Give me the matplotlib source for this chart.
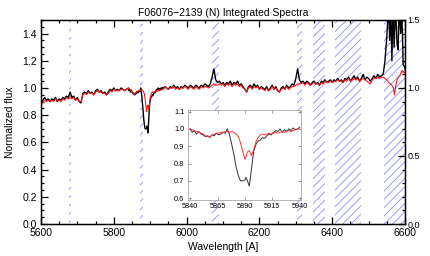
import numpy as np
import matplotlib
matplotlib.use("Agg")
import matplotlib.pyplot as plt

plt.rcParams['font.family'] = ['Liberation Sans', 'DejaVu Sans']
plt.rcParams['hatch.linewidth'] = 0.6

title = "F06076\u22122139 (N) Integrated Spectra"
xlabel = "Wavelength [A]"
ylabel = "Normalized flux"

# --- segment 1: 5600-5835, step 5 ---
w1 = np.arange(5600, 5836, 5)
black1 = [0.88, 0.91, 0.93, 0.91, 0.92, 0.90, 0.92, 0.91, 0.93, 0.90,
          0.92, 0.91, 0.93, 0.92, 0.94, 0.93, 0.97, 0.93, 0.94, 0.91,
          0.93, 0.90, 0.89, 0.96, 0.97, 0.96, 0.98, 0.96, 0.97, 0.95,
          0.98, 0.99, 0.97, 0.98, 0.96, 0.97, 0.95, 0.97, 0.99, 0.98,
          1.00, 0.98, 0.99, 0.98, 1.00, 0.99, 0.98, 0.99]
red1 = [0.87, 0.89, 0.91, 0.90, 0.91, 0.90, 0.91, 0.90, 0.92, 0.91,
        0.91, 0.90, 0.92, 0.91, 0.93, 0.92, 0.93, 0.92, 0.93, 0.91,
        0.92, 0.90, 0.90, 0.95, 0.96, 0.95, 0.97, 0.96, 0.96, 0.95,
        0.97, 0.98, 0.97, 0.97, 0.96, 0.96, 0.95, 0.96, 0.98, 0.97,
        0.99, 0.98, 0.98, 0.98, 0.99, 0.99, 0.98, 0.99]

# --- segment 2: Na D region 5840-5940 ---
w2 = [5840, 5842, 5844, 5846, 5848, 5850, 5852, 5854, 5856, 5858,
      5860, 5862, 5864, 5866, 5868, 5870, 5872, 5874, 5876, 5878,
      5880, 5882, 5884, 5886, 5888, 5890, 5891, 5892, 5894, 5896,
      5898, 5900, 5902, 5904, 5906, 5908, 5910, 5912, 5914, 5916,
      5918, 5920, 5922, 5924, 5926, 5928, 5930, 5932, 5934, 5936,
      5938, 5940]
black2 = [1.00, 0.98, 0.99, 0.97, 0.985, 0.97, 0.965, 0.955, 0.96, 0.95,
          0.965, 0.96, 0.975, 0.965, 0.97, 0.98, 0.975, 1.00, 0.965, 0.91,
          0.85, 0.78, 0.73, 0.70, 0.70, 0.705, 0.72, 0.705, 0.67, 0.77,
          0.87, 0.91, 0.93, 0.935, 0.95, 0.945, 0.96, 0.97, 0.965, 0.98,
          0.99, 0.985, 1.00, 0.98, 0.995, 0.985, 1.00, 0.99, 1.005, 0.995,
          1.00, 1.01]
red2 = [1.00, 0.995, 0.99, 0.985, 0.98, 0.975, 0.97, 0.96, 0.955, 0.955,
        0.965, 0.97, 0.975, 0.975, 0.98, 0.98, 0.985, 0.985, 0.98, 0.985,
        0.98, 0.97, 0.955, 0.92, 0.87, 0.825, 0.835, 0.865, 0.875, 0.845,
        0.88, 0.925, 0.95, 0.965, 0.97, 0.965, 0.97, 0.975, 0.97, 0.975,
        0.98, 0.975, 0.98, 0.985, 0.98, 0.985, 0.99, 0.985, 0.99, 0.995,
        1.00, 1.005]

# --- segment 3: 5945-6545, step 5 ---
w3 = np.arange(5945, 6546, 5)
black3 = [1.00, 0.99, 1.01, 1.00, 1.02, 1.00, 1.01, 0.99, 1.01, 1.00,
          1.02, 1.01, 1.00, 1.02, 1.01, 1.00, 1.02, 1.01, 1.00, 1.02,
          1.01, 1.03, 1.02, 1.01, 1.03, 1.08, 1.14, 1.06, 1.04, 1.05,
          1.03, 1.04, 1.02, 1.04, 1.03, 1.05, 1.02, 1.04, 1.03, 1.05,
          1.02, 1.03, 1.01, 0.99, 0.97, 1.01, 1.02, 1.00, 1.03, 1.01,
          1.02, 0.99, 1.01, 1.00, 0.99, 1.01, 0.98, 1.00, 1.02, 0.99,
          1.01, 0.98, 0.97, 1.00, 1.01, 0.99, 1.02, 1.00, 1.01, 1.03,
          1.02, 1.07, 1.14, 1.06, 1.04, 1.05, 1.03, 1.05, 1.04, 1.02,
          1.04, 1.05, 1.03, 1.04, 1.02, 1.05, 1.04, 1.06, 1.04, 1.05,
          1.06, 1.04, 1.06, 1.05, 1.07, 1.05, 1.06, 1.04, 1.07, 1.06,
          1.08, 1.05, 1.07, 1.09, 1.06, 1.08, 1.05, 1.07, 1.10, 1.06,
          1.08, 1.07, 1.05, 1.07, 1.09, 1.07, 1.10, 1.08, 1.09, 1.10,
          1.20]
red3 = [1.00, 0.99, 1.00, 1.00, 1.01, 0.99, 1.00, 0.99, 1.00, 1.00,
        1.01, 1.00, 0.99, 1.01, 1.00, 0.99, 1.01, 1.00, 0.99, 1.01,
        1.00, 1.01, 1.01, 1.00, 1.01, 1.02, 1.03, 1.02, 1.02, 1.03,
        1.02, 1.03, 1.01, 1.03, 1.02, 1.03, 1.01, 1.03, 1.02, 1.03,
        1.01, 1.02, 1.00, 0.99, 0.97, 1.00, 1.01, 0.99, 1.01, 1.00,
        1.01, 0.99, 1.00, 0.99, 0.98, 1.00, 0.98, 0.99, 1.01, 0.99,
        1.00, 0.98, 0.97, 0.99, 1.00, 0.99, 1.01, 0.99, 1.00, 1.01,
        1.01, 1.02, 1.03, 1.03, 1.03, 1.04, 1.02, 1.04, 1.03, 1.02,
        1.03, 1.04, 1.03, 1.03, 1.02, 1.04, 1.03, 1.05, 1.04, 1.04,
        1.05, 1.04, 1.05, 1.05, 1.06, 1.05, 1.05, 1.04, 1.06, 1.05,
        1.07, 1.05, 1.06, 1.07, 1.06, 1.07, 1.05, 1.06, 1.07, 1.06,
        1.05, 1.04, 1.03, 1.06, 1.07, 1.07, 1.08, 1.07, 1.08, 1.08,
        1.07]

# --- segment 4: H-alpha / [NII] region ---
w4_black = [6550, 6555, 6558, 6561, 6564, 6567, 6570, 6574, 6578, 6581,
            6584, 6588, 6591, 6595, 6598, 6600]
black4 = [1.38, 1.60, 1.35, 1.60, 1.20, 1.60, 1.30, 1.60, 1.33, 1.28,
          1.60, 1.40, 1.60, 1.17, 1.16, 1.14]
w4_red = [6550, 6555, 6560, 6564, 6568, 6571, 6574, 6578, 6582, 6586,
          6590, 6593, 6597, 6600]
red4 = [1.06, 1.04, 1.03, 1.02, 1.00, 0.95, 1.01, 1.06, 1.08, 1.09,
        1.12, 1.13, 1.11, 1.12]

# masked (hatched) wavelength ranges
mask_lo = [5676, 5871, 6070, 6304, 6347, 6408, 6541]
mask_hi = [5683, 5879, 6090, 6316, 6380, 6478, 6600]

wave_black = np.concatenate([w1, w2, w3, w4_black])
flux_black = np.concatenate([black1, black2, black3, black4])
wave_red = np.concatenate([w1, w2, w3, w4_red])
flux_red = np.concatenate([red1, red2, red3, red4])

fig = plt.figure(figsize=(4.31, 2.56), dpi=100)
ax = fig.add_axes([0.0951, 0.125, 0.8446, 0.797])

hatch_col = '#8c8cff'
for lo, hi in zip(mask_lo, mask_hi):
    ax.axvspan(lo, hi, facecolor='none', edgecolor=hatch_col, hatch='////',
               linewidth=0, zorder=1)

ax.plot(wave_black, flux_black, color='black', lw=1.0, zorder=3)
ax.plot(wave_red, flux_red, color='#ff1a1a', lw=0.8, zorder=4)

ax.set_xlim(5600, 6600)
ax.set_ylim(0, 1.5)
ax.set_xticks([5600, 5800, 6000, 6200, 6400, 6600])
ax.set_xticks(np.arange(5600, 6601, 50), minor=True)
ax.set_yticks([0.0, 0.2, 0.4, 0.6, 0.8, 1.0, 1.2, 1.4])
ax.set_yticks(np.arange(0, 1.51, 0.05), minor=True)
ax.yaxis.set_major_formatter(matplotlib.ticker.FormatStrFormatter('%.1f'))
ax.tick_params(which='both', direction='in', top=True, right=False,
               labelsize=7.5, width=0.9, pad=3)
ax.tick_params(which='major', length=5)
ax.tick_params(which='minor', length=2.5)
for s in ax.spines.values():
    s.set_linewidth(1.0)

ax.set_title(title, fontsize=7.5, pad=3)
ax.set_xlabel(xlabel, fontsize=7.5, labelpad=3)
ax.set_ylabel(ylabel, fontsize=7.5, labelpad=5)

axr = ax.twinx()
axr.set_ylim(0, 1.5)
axr.set_yticks([0.0, 0.5, 1.0, 1.5])
axr.set_yticks(np.arange(0, 1.51, 0.1), minor=True)
axr.yaxis.set_major_formatter(matplotlib.ticker.FormatStrFormatter('%.1f'))
axr.tick_params(which='both', direction='in', labelsize=6.5, width=0.9, pad=2)
axr.tick_params(which='major', length=5)
axr.tick_params(which='minor', length=2.5)

# inset
axi = fig.add_axes([0.436, 0.219, 0.262, 0.352])
axi.plot(w2, black2, color='#333333', lw=0.7)
axi.plot(w2, red2, color='#ff3333', lw=0.7)
axi.set_xlim(5838, 5941)
axi.set_ylim(0.59, 1.11)
axi.set_xticks([5840, 5865, 5890, 5915, 5940])
axi.set_yticks([0.6, 0.7, 0.8, 0.9, 1.0, 1.1])
axi.yaxis.set_major_formatter(matplotlib.ticker.FormatStrFormatter('%.1f'))
axi.tick_params(which='both', direction='in', labelsize=5.3, length=2,
                width=0.5, color='#777777', top=True, right=True, pad=2.5)
for s in axi.spines.values():
    s.set_linewidth(0.6)
    s.set_color('#aaaaaa')

fig.savefig('out.png', dpi=100)
